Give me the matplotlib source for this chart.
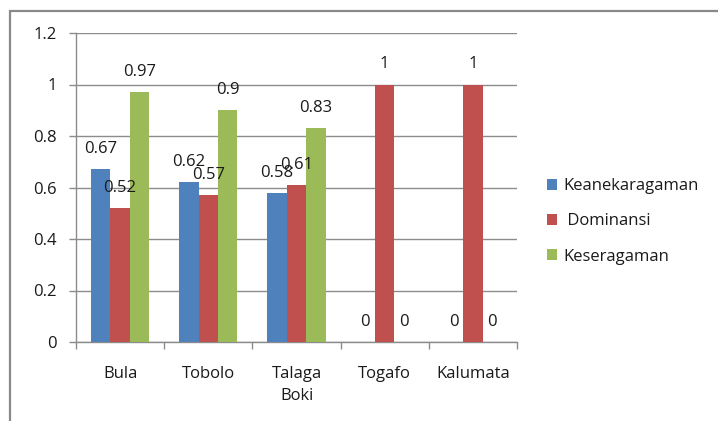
import matplotlib
matplotlib.use("Agg")
import matplotlib.pyplot as plt
from matplotlib.patches import Rectangle
import numpy as np

plt.rcParams['font.family'] = ['Open Sans', 'DejaVu Sans']

sites = ["Bula", "Tobolo", "Talaga\nBoki", "Togafo", "Kalumata"]
keanekaragaman = [0.67, 0.62, 0.58, 0, 0]
dominansi = [0.52, 0.57, 0.61, 1, 1]
keseragaman = [0.97, 0.9, 0.83, 0, 0]
series_names = ["Keanekaragaman", " Dominansi", "Keseragaman"]
colors = ["#4F81BD", "#C0504D", "#9BBB59"]
yticks = [0, 0.2, 0.4, 0.6, 0.8, 1, 1.2]
ytick_labels = ["0", "0.2", "0.4", "0.6", "0.8", "1", "1.2"]

W, H = 718, 421
FS = 12
fig = plt.figure(figsize=(W / 100, H / 100), dpi=100)
fig.patch.set_facecolor("white")

# outer chart frame (runs past right and bottom edges)
fig.add_artist(Rectangle((10 / W, -0.1), 2.0, 1 - 11 / H + 0.1,
                         transform=fig.transFigure, fill=False,
                         edgecolor="#898989", linewidth=1.6))

ax = fig.add_axes([76 / W, 1 - 342 / H, (517 - 76) / W, (342 - 33) / H])
grid_c = "#8C8C8C"
txt_c = "#1a1a1a"

x = np.arange(len(sites))
bw = 0.22
all_series = [keanekaragaman, dominansi, keseragaman]
for i, (vals, col, name) in enumerate(zip(all_series, colors, series_names)):
    pos = x + (i - 1) * bw
    bars = ax.bar(pos, vals, width=bw, color=col, label=name, zorder=3)
    for b, v in zip(bars, vals):
        ax.annotate(f"{v:g}", (b.get_x() + b.get_width() / 2, v),
                    xytext=(0, 14.5), textcoords="offset points",
                    ha="center", va="center", fontsize=FS, color=txt_c,
                    zorder=5)

ax.set_ylim(0, 1.2)
ax.set_xlim(-0.5, len(sites) - 0.5)
ax.set_yticks(yticks)
ax.set_yticklabels(ytick_labels)
ax.yaxis.grid(True, color=grid_c, linewidth=1)
ax.set_axisbelow(True)

# category boundaries get the tick marks, names sit between them
ax.set_xticks(np.arange(len(sites) + 1) - 0.5)
ax.set_xticklabels([])
ax.set_xticks(x, minor=True)
ax.set_xticklabels(sites, minor=True, fontsize=FS, linespacing=1.5,
                   color=txt_c)
ax.tick_params(axis="x", which="major", length=5, color=grid_c, width=1)
ax.tick_params(axis="x", which="minor", length=0, pad=17)
ax.tick_params(axis="y", length=5, color=grid_c, width=1, pad=9,
               labelsize=FS, labelcolor=txt_c)

for s in ["top", "right"]:
    ax.spines[s].set_visible(False)
for s in ["left", "bottom"]:
    ax.spines[s].set_color(grid_c)
    ax.spines[s].set_linewidth(1)

ax.legend(loc="center left", bbox_to_anchor=(1.035, 0.39), frameon=False,
          handlelength=0.6, handleheight=0.6, handletextpad=0.35,
          labelspacing=1.15, fontsize=FS, labelcolor=txt_c)

fig.savefig("out.png", dpi=100)
